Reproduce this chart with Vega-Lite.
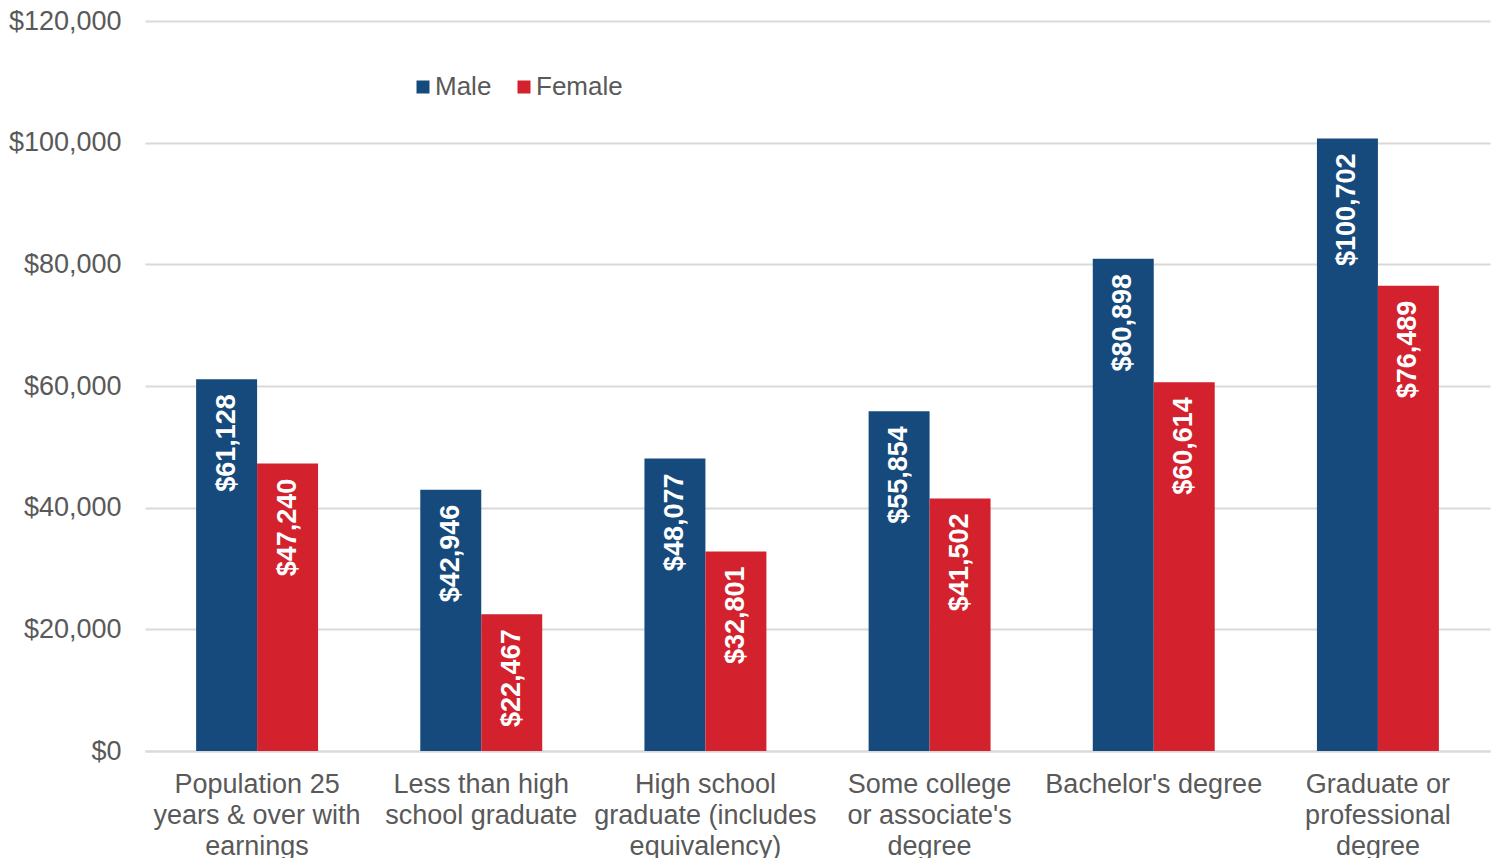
{
  "$schema": "https://vega.github.io/schema/vega-lite/v6.json",
  "autosize": {"type": "none"},
  "width": 1345,
  "height": 730,
  "padding": {"left": 145, "top": 21, "right": 7, "bottom": 107},
  "background": "white",
  "config": {
    "view": {"stroke": null},
    "font": "Liberation Sans",
    "text": {"font": "Liberation Sans"}
  },
  "data": {
    "values": [
      {"category": "Population 25|years & over with|earnings", "sex": "Male", "earnings": 61128},
      {"category": "Population 25|years & over with|earnings", "sex": "Female", "earnings": 47240},
      {"category": "Less than high|school graduate", "sex": "Male", "earnings": 42946},
      {"category": "Less than high|school graduate", "sex": "Female", "earnings": 22467},
      {"category": "High school|graduate (includes|equivalency)", "sex": "Male", "earnings": 48077},
      {"category": "High school|graduate (includes|equivalency)", "sex": "Female", "earnings": 32801},
      {"category": "Some college|or associate's|degree", "sex": "Male", "earnings": 55854},
      {"category": "Some college|or associate's|degree", "sex": "Female", "earnings": 41502},
      {"category": "Bachelor's degree", "sex": "Male", "earnings": 80898},
      {"category": "Bachelor's degree", "sex": "Female", "earnings": 60614},
      {"category": "Graduate or|professional|degree", "sex": "Male", "earnings": 100702},
      {"category": "Graduate or|professional|degree", "sex": "Female", "earnings": 76489}
    ]
  },
  "encoding": {
    "x": {
      "field": "category",
      "type": "nominal",
      "sort": null,
      "scale": {"paddingInner": 0.456, "paddingOuter": 0.228},
      "axis": {
        "title": null,
        "labelAngle": 0,
        "labelExpr": "split(datum.label, '|')",
        "labelFontSize": 27,
        "labelLineHeight": 31,
        "labelColor": "#595959",
        "labelBaseline": "top",
        "labelPadding": 20,
        "labelLimit": 0,
        "ticks": false,
        "domainColor": "#D9D9D9",
        "domainWidth": 2
      }
    },
    "xOffset": {
      "field": "sex",
      "type": "nominal",
      "sort": ["Male", "Female"],
      "scale": {"paddingInner": 0, "paddingOuter": 0}
    },
    "y": {
      "field": "earnings",
      "type": "quantitative",
      "scale": {"domain": [0, 120000], "nice": false},
      "axis": {
        "title": null,
        "values": [0, 20000, 40000, 60000, 80000, 100000, 120000],
        "format": "$,.0f",
        "labelFontSize": 27,
        "labelColor": "#595959",
        "labelPadding": 24,
        "ticks": false,
        "domain": false,
        "gridColor": "#D9D9D9",
        "gridWidth": 2
      }
    }
  },
  "layer": [
    {
      "mark": {"type": "bar"},
      "encoding": {
        "color": {
          "field": "sex",
          "type": "nominal",
          "sort": ["Male", "Female"],
          "scale": {"domain": ["Male", "Female"], "range": ["#174A7C", "#D3212D"]},
          "legend": {
            "title": null,
            "orient": "none",
            "legendX": 265,
            "legendY": 53,
            "direction": "horizontal",
            "symbolType": "square",
            "symbolSize": 169,
            "symbolStrokeWidth": 0,
            "labelFontSize": 26,
            "labelColor": "#595959",
            "labelOffset": -1,
            "columnPadding": 19,
            "padding": 0
          }
        }
      }
    },
    {
      "mark": {
        "type": "text",
        "angle": 270,
        "align": "right",
        "baseline": "middle",
        "dx": -15,
        "fontSize": 27,
        "fontWeight": "bold",
        "color": "white"
      },
      "encoding": {
        "text": {"field": "earnings", "type": "quantitative", "format": "$,.0f"}
      }
    }
  ]
}
